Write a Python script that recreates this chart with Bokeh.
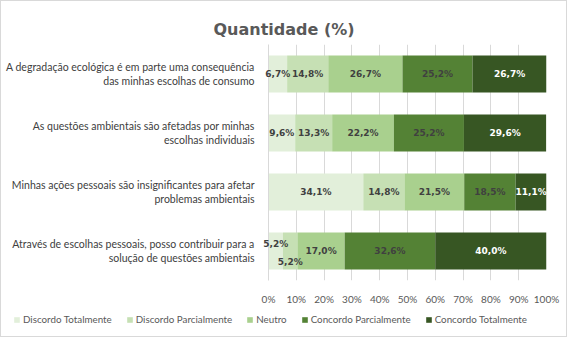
from bokeh.plotting import figure
from bokeh.layouts import column, row
from bokeh.models import ColumnDataSource, FactorRange, Legend, LegendItem, FixedTicker, CustomJSTickFormatter, Range1d
from bokeh.embed import file_html
from bokeh.resources import INLINE
from bokeh.core.properties import value

statements = [
    "A degradação ecológica é em parte uma consequência\ndas minhas escolhas de consumo",
    "As questões ambientais são afetadas por minhas\nescolhas individuais",
    "Minhas ações pessoais são insignificantes para afetar\nproblemas ambientais",
    "Através de escolhas pessoais, posso contribuir para a\nsolução de questões ambientais",
]
series = ["Discordo Totalmente", "Discordo Parcialmente", "Neutro", "Concordo Parcialmente", "Concordo Totalmente"]
discordo_totalmente = [6.7, 9.6, 34.1, 5.2]
discordo_parcialmente = [14.8, 13.3, 14.8, 5.2]
neutro = [26.7, 22.2, 21.5, 17.0]
concordo_parcialmente = [25.2, 25.2, 18.5, 32.6]
concordo_totalmente = [26.7, 29.6, 11.1, 40.0]
x_ticks = [0, 10, 20, 30, 40, 50, 60, 70, 80, 90, 100]

colors = ["#E2EFDA", "#C6E0B4", "#A9D08E", "#548235", "#375623"]
label_colors = ["#404040", "#404040", "#404040", "#404040", "#FFFFFF"]
keys = ["dt", "dp", "ne", "cp", "ct"]
values = [discordo_totalmente, discordo_parcialmente, neutro, concordo_parcialmente, concordo_totalmente]

FONT = "Lato"
BOLD_FONT = "DejaVu Sans"

data = {"cat": statements}
for k, v in zip(keys, values):
    data[k] = v
source = ColumnDataSource(data)

p = figure(
    width=565, height=306,
    y_range=FactorRange(factors=list(reversed(statements)), range_padding=0),
    x_range=Range1d(0, 100),
    output_backend="svg", toolbar_location=None,
    min_border_left=267, min_border_right=20, min_border_top=43, min_border_bottom=23,
)

renderers = p.hbar_stack(keys, y="cat", height=0.63, color=colors, line_color=None, source=source)

# data labels
lx, ly, lt, lc, lyo = [], [], [], [], []
for i, cat in enumerate(statements):
    cum = 0.0
    for j, k in enumerate(keys):
        v = values[j][i]
        lx.append(cum + v / 2)
        ly.append(cat)
        lt.append(f"{v:.1f}%".replace(".", ","))
        lc.append(label_colors[j])
        off = 0
        if v < 6 and i == 3:
            off = -7 if j == 0 else 11
        lyo.append(off)
        cum += v
lsrc = ColumnDataSource(dict(x=lx, y=ly, t=lt, c=lc, yo=lyo))
lab = p.text(x="x", y="y", text="t", text_color="c", y_offset="yo", source=lsrc,
             text_align="center", text_baseline="middle", text_font=value(BOLD_FONT),
             text_font_style="bold", text_font_size="9px")
lab.level = "overlay"

# title
p.title.text = "Quantidade (%)"
p.title.align = "left"
p.title.offset = -55
p.title.text_font = BOLD_FONT
p.title.text_font_size = "16px"
p.title.text_font_style = "bold"
p.title.text_color = "#595959"
p.title.standoff = 11

# axes
p.xaxis.ticker = FixedTicker(ticks=x_ticks)
p.xaxis.formatter = CustomJSTickFormatter(code="return tick + '%';")
p.xaxis.axis_line_color = None
p.xaxis.major_tick_line_color = None
p.xaxis.minor_tick_line_color = None
p.xaxis.major_label_text_font = FONT
p.xaxis.major_label_text_font_size = "10px"
p.xaxis.major_label_text_color = "#595959"
p.xaxis.major_label_standoff = 6

p.yaxis.axis_line_color = "#D9D9D9"
p.yaxis.major_tick_line_color = None
p.yaxis.minor_tick_line_color = None
p.yaxis.major_label_text_font = FONT
p.yaxis.major_label_text_font_size = "10.5px"
p.yaxis.major_label_text_color = "#404040"
p.yaxis.major_label_standoff = 8

p.xgrid.grid_line_color = "#D9D9D9"
p.ygrid.grid_line_color = None
p.outline_line_color = None

# legend in its own strip below the chart (swatch glyphs sit outside the strip's range)
leg = figure(width=565, height=29, x_range=Range1d(0, 1), y_range=Range1d(0, 1),
             x_axis_type=None, y_axis_type=None, output_backend="svg", toolbar_location=None,
             min_border=0)
leg.outline_line_color = None
leg.xgrid.visible = False
leg.ygrid.visible = False
leg_r = [leg.hbar(y=[5], left=[5], right=[6], height=0.5, color=c, line_color=None) for c in colors]
legend = Legend(
    items=[LegendItem(label=s, renderers=[r]) for s, r in zip(series, leg_r)],
    orientation="horizontal", location=(12, 11),
    label_text_font=FONT, label_text_font_size="9.8px", label_text_color="#595959",
    glyph_width=7, glyph_height=7, label_standoff=3, spacing=14,
    background_fill_alpha=0, border_line_color=None, padding=0, margin=0,
)
leg.add_layout(legend, "center")

layout = column(p, row(leg), spacing=0, styles={"border": "1px solid #D9D9D9"})

open("out.html", "w").write(file_html(layout, INLINE))
